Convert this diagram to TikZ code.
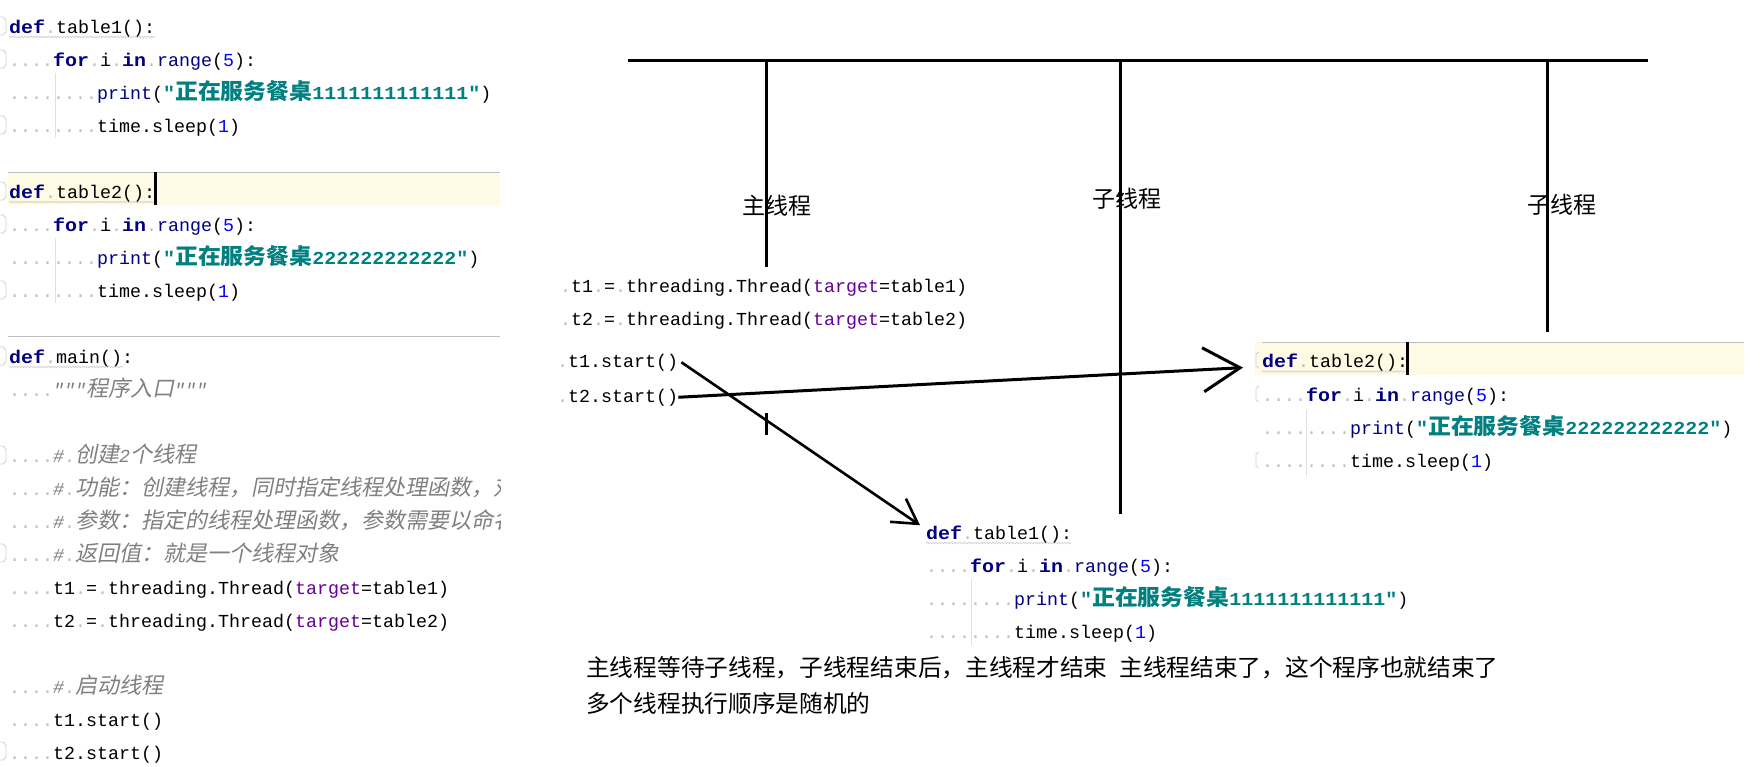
\documentclass[tikz,border=0pt]{standalone}
\usepackage{fontspec}
\usepackage{tikz}
\usetikzlibrary{arrows.meta,decorations.pathmorphing}
\setmainfont{Liberation Serif}
\newfontfamily\codefont{Liberation Mono}
\newfontfamily\codebffont{Liberation Mono}[FakeStretch=1.09]
\newfontfamily\cjk{Noto Sans CJK SC}
\newfontfamily\cjkbf{Noto Sans CJK SC}[FakeStretch=1.04]
\newfontfamily\cjkit{Noto Sans CJK SC}[FakeSlant=0.2]
\definecolor{kwNavy}{RGB}{0,0,128}
\definecolor{strTeal}{RGB}{0,128,128}
\definecolor{numBlue}{RGB}{0,0,255}
\definecolor{argPurple}{RGB}{102,0,153}
\definecolor{cmtGray}{RGB}{128,128,128}
\definecolor{dotGray}{RGB}{190,190,190}
\definecolor{lineCream}{RGB}{255,250,227}
\definecolor{sepGray}{RGB}{192,192,192}
\definecolor{guideGray}{RGB}{225,225,225}
% code colouring
\newcommand{\wsp}[1]{{\color{dotGray}#1}}
\newcommand{\kw}[1]{{\codebffont\bfseries\color{kwNavy}#1}}
\newcommand{\bltn}[1]{{\color{kwNavy}#1}}
\newcommand{\nm}[1]{{\color{numBlue}#1}}
\newcommand{\kwa}[1]{{\color{argPurple}#1}}
\newcommand{\zhb}[1]{{\cjkbf\bfseries\fontsize{22}{22}\selectfont#1}}
\newcommand{\strz}[1]{{\color{strTeal}\codebffont\bfseries#1}}
\newcommand{\zhi}[1]{{\cjkit\fontsize{22}{22}\selectfont#1}}
\newcommand{\cm}[1]{{\color{cmtGray}\codefont\itshape#1}}

\begin{document}
\begin{tikzpicture}[x=1pt,y=-1pt,
    codeline/.style={anchor=base west,inner sep=0pt,font=\codefont\fontsize{18.33}{20}\selectfont},
    lbl/.style={inner sep=0pt,font=\cjk\fontsize{23}{23}\selectfont},
    lifeline/.style={line width=3pt},
    divider/.style={draw=sepGray,line width=1pt},
    indentguide/.style={draw=guideGray,line width=1pt},
    foldmark/.style={draw=gray!35,line width=0.8pt},
    squig/.style={draw=gray!40,line width=0.6pt,decorate,decoration={snake,amplitude=0.8pt,segment length=3pt}},
    callone/.style={line width=2.6pt,-{Straight Barb[length=24pt,width=28pt]}},
    calltwo/.style={line width=3pt,-{Straight Barb[length=37pt,width=44pt]}}]
  \fill[white] (0,0) rectangle (1760,766);

  % left editor panel
  \begin{scope}
    \clip (0,0) rectangle (500,766);
    \fill[lineCream] (8,172) rectangle (500,205);
    \draw[divider] (8,172) -- (500,172);
    \draw[divider] (8,336) -- (500,336);
    \draw[indentguide] (55,73) -- (55,138);
    \draw[indentguide] (55,238) -- (55,303);
    \foreach \y in {26,59,125,191,224,290,356,455,553,751}
      \draw[foldmark] (0,\y-9) -- (3,\y-9) -- (6,\y-6) -- (6,\y+6) -- (3,\y+9) -- (0,\y+9);
    \node[codeline] (ldefone) at (9,33) {\kw{def}\wsp{.}table1():};
    \node[codeline] (lforone) at (9,66) {\wsp{....}\kw{for}\wsp{.}i\wsp{.}\kw{in}\wsp{.}\bltn{range}(\nm{5}):};
    \node[codeline] (lprtone) at (9,99) {\wsp{........}\bltn{print}(\strz{"\zhb{正在服务餐桌}1111111111111"})};
    \node[codeline] (lslpone) at (9,132) {\wsp{........}time.sleep(\nm{1})};
    \node[codeline] (ldeftwo) at (9,198) {\kw{def}\wsp{.}table2():};
    \node[codeline] (lfortwo) at (9,231) {\wsp{....}\kw{for}\wsp{.}i\wsp{.}\kw{in}\wsp{.}\bltn{range}(\nm{5}):};
    \node[codeline] (lprttwo) at (9,264) {\wsp{........}\bltn{print}(\strz{"\zhb{正在服务餐桌}222222222222"})};
    \node[codeline] (lslptwo) at (9,297) {\wsp{........}time.sleep(\nm{1})};
    \node[codeline] (ldefmain) at (9,363) {\kw{def}\wsp{.}main():};
    \node[codeline] (ldoc) at (9,396) {\wsp{....}\cm{"""\zhi{程序入口}"""}};
    \node[codeline] (lcmone) at (9,462) {\wsp{....}\cm{\#}\wsp{.}\cm{\zhi{创建}2\zhi{个线程}}};
    \node[codeline] (lcmtwo) at (9,495) {\wsp{....}\cm{\#}\wsp{.}\cm{\zhi{功能：创建线程，同时指定线程处理函数，对线程传参}}};
    \node[codeline] (lcmthree) at (9,528) {\wsp{....}\cm{\#}\wsp{.}\cm{\zhi{参数：指定的线程处理函数，参数需要以命名参数传递}}};
    \node[codeline] (lcmfour) at (9,561) {\wsp{....}\cm{\#}\wsp{.}\cm{\zhi{返回值：就是一个线程对象}}};
    \node[codeline] (lmkone) at (9,594) {\wsp{....}t1\wsp{.}=\wsp{.}threading.Thread(\kwa{target}=table1)};
    \node[codeline] (lmktwo) at (9,627) {\wsp{....}t2\wsp{.}=\wsp{.}threading.Thread(\kwa{target}=table2)};
    \node[codeline] (lcmfive) at (9,693) {\wsp{....}\cm{\#}\wsp{.}\cm{\zhi{启动线程}}};
    \node[codeline] (lrunone) at (9,726) {\wsp{....}t1.start()};
    \node[codeline] (lruntwo) at (9,759) {\wsp{....}t2.start()};
    \draw[squig] (9,37) -- (155,37);
    \draw[squig] (9,202) -- (155,202);
    \draw[squig] (9,367) -- (123,367);
    \fill (154,172) rectangle (157,205);
  \end{scope}

  % threads
  \draw[lifeline] (628,60) -- (1648,60);
  \draw[lifeline] (766,60) -- (766,267);
  \draw[lifeline] (766,413) -- (766,435);
  \draw[lifeline] (1120,60) -- (1120,514);
  \draw[lifeline] (1547,60) -- (1547,332);
  \node[lbl] (mainlbl) at (777,206) {主线程};
  \node[lbl] (sublblone) at (1127,199) {子线程};
  \node[lbl] (sublbltwo) at (1562,205) {子线程};

  % main snippets
  \node[codeline] (tone) at (560,292) {\wsp{.}t1\wsp{.}=\wsp{.}threading.Thread(\kwa{target}=table1)};
  \node[codeline] (ttwo) at (560,325) {\wsp{.}t2\wsp{.}=\wsp{.}threading.Thread(\kwa{target}=table2)};
  \node[codeline] (t1start) at (557,367) {\wsp{.}t1.start()};
  \node[codeline] (t2start) at (557,402) {\wsp{.}t2.start()};

  % table2 snippet
  \fill[lineCream] (1255,342) rectangle (1744,375);
  \draw[divider] (1262,342) -- (1744,342);
  \draw[indentguide] (1306,410) -- (1306,477);
  \foreach \y in {360,394,460}
    \draw[foldmark] (1259,\y-8) -- (1256,\y-6) -- (1256,\y+6) -- (1259,\y+8);
  \node[codeline] (tbtwo) at (1262,367.5) {\kw{def}\wsp{.}table2():};
  \node[codeline] (tbtwofor) at (1262,401) {\wsp{....}\kw{for}\wsp{.}i\wsp{.}\kw{in}\wsp{.}\bltn{range}(\nm{5}):};
  \node[codeline] (tbtwoprt) at (1262,434) {\wsp{........}\bltn{print}(\strz{"\zhb{正在服务餐桌}222222222222"})};
  \node[codeline] (tbtwoslp) at (1262,467) {\wsp{........}time.sleep(\nm{1})};
  \draw[squig] (1262,371.5) -- (1405,371.5);
  \fill (1406,342) rectangle (1409,375);

  % table1 snippet
  \draw[indentguide] (971,579) -- (971,645);
  \node[codeline] (tbone) at (926,539) {\kw{def}\wsp{.}table1():};
  \node[codeline] (tbonefor) at (926,572) {\wsp{....}\kw{for}\wsp{.}i\wsp{.}\kw{in}\wsp{.}\bltn{range}(\nm{5}):};
  \node[codeline] (tboneprt) at (926,605) {\wsp{........}\bltn{print}(\strz{"\zhb{正在服务餐桌}1111111111111"})};
  \node[codeline] (tboneslp) at (926,638) {\wsp{........}time.sleep(\nm{1})};
  \draw[squig] (926,543) -- (1071,543);

  % calls
  \draw[callone] ([xshift=3pt]t1start.east) -- ([xshift=-6pt]tbone.north west);
  \draw[calltwo] (t2start.east) -- ([xshift=-19pt,yshift=-5pt]tbtwo.west);

  % notes
  \node[anchor=base west,inner sep=0pt,font=\cjk\fontsize{23.7}{30}\selectfont] (noteone) at (586,676)
    {主线程等待子线程，子线程结束后，主线程才结束\hspace{0.5em}主线程结束了，这个程序也就结束了};
  \node[anchor=base west,inner sep=0pt,font=\cjk\fontsize{23.7}{30}\selectfont] (notetwo) at (586,712)
    {多个线程执行顺序是随机的};
\end{tikzpicture}
\end{document}
